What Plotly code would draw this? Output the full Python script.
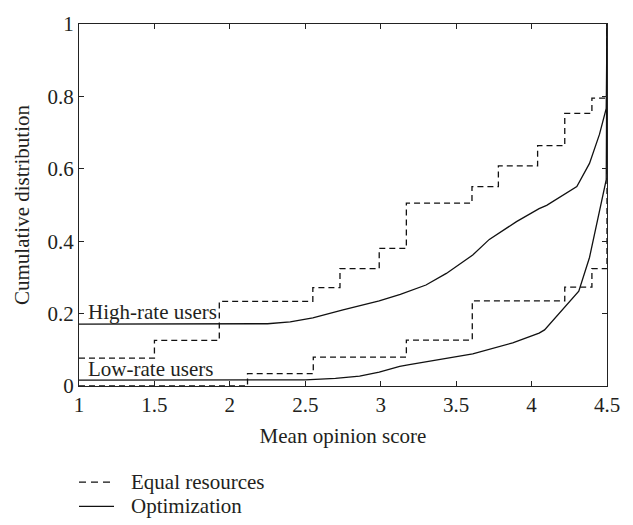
import plotly.graph_objects as go

# High-rate users
high_equal_x = [1.0, 1.5, 1.93, 2.55, 2.73, 2.99, 3.17, 3.605, 3.78, 4.04, 4.22, 4.40, 4.5]
high_equal_y = [0.077, 0.126, 0.234, 0.272, 0.324, 0.380, 0.505, 0.551, 0.608, 0.664, 0.753, 0.795, 1.0]
high_opt_x = [1.0, 2.25, 2.4, 2.55, 2.75, 2.99, 3.13, 3.3, 3.435, 3.52, 3.61, 3.72, 3.90, 4.05, 4.10, 4.30, 4.384, 4.45, 4.495, 4.5]
high_opt_y = [0.171, 0.172, 0.177, 0.188, 0.21, 0.235, 0.253, 0.279, 0.311, 0.336, 0.362, 0.405, 0.454, 0.49, 0.499, 0.551, 0.615, 0.695, 0.767, 1.0]

# Low-rate users
low_equal_x = [1.0, 2.117, 2.553, 3.17, 3.607, 4.22, 4.40, 4.5]
low_equal_y = [0.0, 0.034, 0.080, 0.127, 0.235, 0.273, 0.324, 1.0]
low_opt_x = [1.0, 2.5, 2.7, 2.86, 2.99, 3.126, 3.19, 3.435, 3.61, 3.875, 4.05, 4.086, 4.313, 4.384, 4.44, 4.495, 4.5]
low_opt_y = [0.016, 0.017, 0.021, 0.027, 0.038, 0.054, 0.059, 0.077, 0.089, 0.119, 0.146, 0.155, 0.262, 0.355, 0.463, 0.57, 1.0]

group_labels = ["High-rate users", "Low-rate users"]
group_label_pos = [(1.046, 0.204), (1.046, 0.047)]
legend_labels = ["Equal resources", "Optimization"]

FONT = "Liberation Serif"
FS = 21
TXT = "#231f20"
LINE = "#111111"
dash = "6px,4px"

fig = go.Figure()
fig.add_trace(go.Scatter(x=high_equal_x, y=high_equal_y, mode="lines", line=dict(shape="hv", color=LINE, width=1.3, dash=dash), showlegend=False))
fig.add_trace(go.Scatter(x=low_equal_x, y=low_equal_y, mode="lines", line=dict(shape="hv", color=LINE, width=1.3, dash=dash), showlegend=False))
fig.add_trace(go.Scatter(x=high_opt_x, y=high_opt_y, mode="lines", line=dict(color=LINE, width=1.3), showlegend=False))
fig.add_trace(go.Scatter(x=low_opt_x, y=low_opt_y, mode="lines", line=dict(color=LINE, width=1.3), showlegend=False))

for lab, (gx, gy) in zip(group_labels, group_label_pos):
    fig.add_annotation(x=gx, y=gy, text=lab, showarrow=False, xanchor="left", yanchor="middle",
                       font=dict(family=FONT, size=FS, color=TXT))

# manual legend below the plot
leg_y = [-0.2654, -0.3324]
leg_dash = ["7px,5px", "solid"]
for lab, ly, dsh in zip(legend_labels, leg_y, leg_dash):
    fig.add_shape(type="line", xref="paper", yref="paper", x0=0.0, x1=0.0663, y0=ly, y1=ly,
                  line=dict(color=LINE, width=1.3, dash=dsh))
    fig.add_annotation(xref="paper", yref="paper", x=0.0947, y=ly, text=lab, showarrow=False,
                       xanchor="left", yanchor="middle", font=dict(family=FONT, size=FS, color=TXT))

axis_common = dict(showgrid=False, zeroline=False, showline=True, linecolor="#222", linewidth=1.2,
                   mirror="ticks", ticks="inside", ticklen=5, tickcolor="#222",
                   tickfont=dict(family=FONT, size=FS, color=TXT))
fig.update_xaxes(range=[1, 4.5], dtick=0.5, tick0=1,
                 title=dict(text="Mean opinion score", font=dict(family=FONT, size=FS, color=TXT), standoff=12),
                 **axis_common)
fig.update_yaxes(range=[0, 1], dtick=0.2, tick0=0,
                 title=dict(text="Cumulative distribution", font=dict(family=FONT, size=FS, color=TXT), standoff=12),
                 **axis_common)
fig.update_layout(width=633, height=525, margin=dict(l=79, r=26, t=13, b=139),
                  plot_bgcolor="white", paper_bgcolor="white")
fig.write_html("out.html")
